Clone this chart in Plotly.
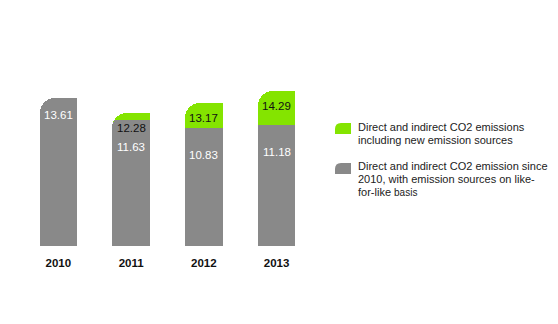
import plotly.graph_objects as go

years = ["2010", "2011", "2012", "2013"]
total_incl_new = [None, 12.28, 13.17, 14.29]   # green: incl. new emission sources
like_for_like = [13.61, 11.63, 10.83, 11.18]   # gray: like-for-like basis

GREEN = "#84e400"
GRAY = "#898989"
W = 0.515
R = 15

xs = list(range(len(years)))
fig = go.Figure()

def add_series(vals, color):
    xv = [x for x, v in zip(xs, vals) if v is not None]
    yv = [v for v in vals if v is not None]
    # full bar with rounded top corners
    fig.add_trace(go.Bar(x=xv, y=yv, width=W, offset=-W / 2,
                         marker=dict(color=color, cornerradius=R, line=dict(width=0)),
                         hoverinfo="skip", showlegend=False))
    # square right half so only the top-left corner stays rounded
    fig.add_trace(go.Bar(x=xv, y=yv, width=W / 2 + 0.03, offset=-0.03,
                         marker=dict(color=color, line=dict(width=0)),
                         hoverinfo="skip", showlegend=False))
    return xv, yv

gx, gy = add_series(total_incl_new, GREEN)
lx, ly = add_series(like_for_like, GRAY)

FONT = "Liberation Sans, Arial"
annotations = []
for x, v in zip(gx, gy):
    annotations.append(dict(x=x, y=v, xref="x", yref="y", text=f"{v:.2f}", showarrow=False,
                            yshift=-15, yanchor="middle",
                            font=dict(family=FONT, size=11.5, color="#111111")))
for x, v in zip(lx, ly):
    has_green = total_incl_new[x] is not None
    annotations.append(dict(x=x, y=v, xref="x", yref="y", text=f"{v:.2f}", showarrow=False,
                            yshift=-27 if has_green else -17, yanchor="middle",
                            font=dict(family=FONT, size=11.5, color="#ffffff")))

# layout geometry (pixels)
L, T, PW, PH = 22, 20, 291, 226
def px(x):
    return (x - L) / PW
def py(y):
    return (T + PH - y) / PH

legend_lines = [
    ("Direct and indirect CO2 emissions", 127),
    ("including new emission sources", 140),
    ("Direct and indirect CO2 emission since", 166),
    ("2010, with emission sources on like-", 179),
    ("for-like <span style='font-size:10px'>basis</span>", 192),
]
for text, yy in legend_lines:
    annotations.append(dict(x=px(356), y=py(yy), xref="paper", yref="paper", text=text,
                            showarrow=False, xanchor="left", yanchor="middle", align="left",
                            font=dict(family=FONT, size=11, color="#222222")))

def swatch(x0, y0, x1, y1, r, color):
    X0, X1 = px(x0), px(x1)
    Yt, Yb = py(y0), py(y1)
    rx = r / PW
    ry = r / PH
    path = (f"M {X0},{Yb} L {X0},{Yt - ry} Q {X0},{Yt} {X0 + rx},{Yt} "
            f"L {X1},{Yt} L {X1},{Yb} Z")
    return dict(type="path", path=path, xref="paper", yref="paper",
                fillcolor=color, line=dict(width=0))

shapes = [swatch(335, 123, 351, 134, 6, GREEN), swatch(335, 163, 351, 174, 6, GRAY)]

fig.update_layout(
    width=558, height=324,
    margin=dict(l=L, r=558 - L - PW, t=T, b=324 - T - PH, pad=0),
    barmode="overlay", bargap=0,
    plot_bgcolor="white", paper_bgcolor="white",
    showlegend=False,
    xaxis=dict(range=[-0.5, 3.5], tickvals=xs, ticktext=[f"<b>{y}</b>" for y in years],
               tickfont=dict(family=FONT, size=11.5, color="#111111"),
               showgrid=False, zeroline=False, showline=False,
               ticks="outside", ticklen=6, tickcolor="rgba(0,0,0,0)", fixedrange=True),
    yaxis=dict(range=[0, PH / 10.85], visible=False, fixedrange=True),
    annotations=annotations,
    shapes=shapes,
)

fig.write_html("out.html")
